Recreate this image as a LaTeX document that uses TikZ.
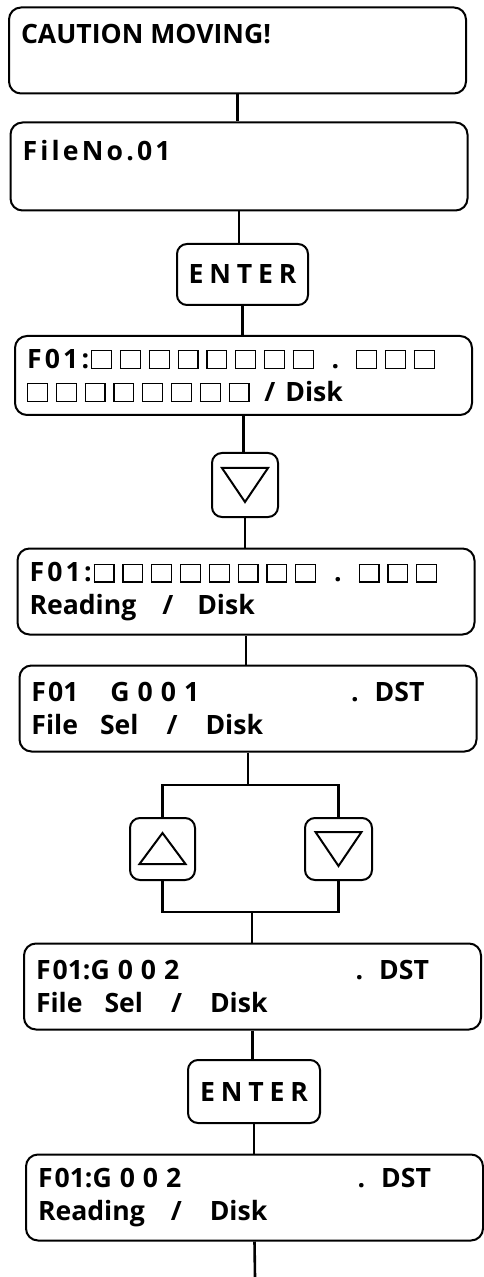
\documentclass[tikz,border=0pt]{standalone}
\usepackage{fontspec}
\setmainfont{Open Sans}
\newfontfamily\lcdwide{Open Sans}[LetterSpace=12]
\newfontfamily\lcdwider{Open Sans}[LetterSpace=22]
\newfontfamily\lcdwidest{Open Sans}[LetterSpace=30]
\newcommand\lcdfont{\fontsize{13.3pt}{16.5pt}\selectfont\bfseries}
\newcommand\lcdcell{{\setlength\fboxsep{0pt}\setlength\fboxrule{0.6pt}\fbox{\rule{0pt}{8.3pt}\rule{9.3pt}{0pt}}}\hspace{3.9pt}}
\newcommand\cells[1]{\foreach \i in {1,...,#1}{\lcdcell}}
\tikzset{
  lcd/.style={draw, line width=1pt, rounded corners=6pt, text width=216.5pt, inner xsep=6pt, inner ysep=0pt, minimum height=43pt, align=flush left, font=\lcdfont},
  key/.style={draw, line width=1pt, rounded corners=5pt, inner sep=0pt, font=\lcdfont},
  wire/.style={line width=1.3pt},
  tri/.style={line width=1pt, line join=miter},
}
\begin{document}
\begin{tikzpicture}[x=0.5pt, y=-0.5pt]
\useasboundingbox (0,0) rectangle (483,1277);
% display screens and keys, top to bottom
\node[lcd] (b1) at (237.5,50.5) {CAUTION MOVING!\\\mbox{}};
\node[lcd, minimum height=44pt] (b2) at (239,166.5) {{\lcdwide FileNo.01}\\\mbox{}};
\node[key, minimum width=65.5pt, minimum height=30.5pt] (ent1) at (242.5,274.5) {\lcdwider ENTER};
\node[lcd, minimum height=39.5pt] (b3) at (243.5,375.5) {{\lcdwide F01:}\hspace{1pt}\cells{8}\hspace{5pt}.\hspace{8.5pt}\cells{3}\\\cells{8}\hspace{3.5pt}/\hspace{5pt}Disk};
\node[key, minimum width=33pt, minimum height=32pt] (dn1) at (245,485) {};
\node[lcd] (b4) at (246,591.5) {{\lcdwide F01:}\hspace{1pt}\cells{8}\hspace{5pt}.\hspace{8.5pt}\cells{3}\\Reading\hspace{13pt}/\hspace{12pt}Disk};
\node[lcd] (b5) at (248,708.5) {F\kern1pt01\hspace{16pt}{\lcdwidest G001}\hfill.\hspace{8pt}DST\hspace{20pt}\mbox{}\\File\hspace{11pt}Sel\hspace{14pt}/\hspace{14pt}Disk};
\node[key, minimum width=32.5pt, minimum height=31pt] (up) at (162.5,849) {};
\node[key, minimum width=33.5pt, minimum height=31pt] (dn2) at (338.5,849) {};
\node[lcd] (b6) at (252.5,986.5) {F\kern1pt01:{\lcdwidest G002}\hfill.\hspace{8pt}DST\hspace{20pt}\mbox{}\\File\hspace{11pt}Sel\hspace{14pt}/\hspace{14pt}Disk};
\node[key, minimum width=66pt, minimum height=31.5pt] (ent2) at (254,1091.5) {\lcdwider ENTER};
\node[lcd] (b7) at (254.5,1197.5) {F\kern1pt01:{\lcdwidest G002}\hfill.\hspace{8pt}DST\hspace{20pt}\mbox{}\\Reading\hspace{13pt}/\hspace{14pt}Disk};
\coordinate (split) at (248,785);
\coordinate (join) at (252,912);
\coordinate (end) at (255,1277);
% arrow keys
\foreach \k in {dn1,dn2}
  \draw[tri] ([shift={(-11.5pt,8.5pt)}]\k.center) -- ([shift={(11.5pt,8.5pt)}]\k.center) -- ([yshift=-8.5pt]\k.center) -- cycle;
\draw[tri] ([shift={(-11.5pt,-7.5pt)}]up.center) -- ([shift={(11.5pt,-7.5pt)}]up.center) -- ([yshift=8pt]up.center) -- cycle;
% connectors
\foreach \a/\b in {b1/b2,b2/ent1,ent1/b3,b3/dn1,dn1/b4,b4/b5,b6/ent2,ent2/b7}
  \draw[wire] (\a.south) -- (\a.south |- \b.north);
\draw[wire] (b5.south) -- (split);
\draw[wire] (up.north) |- (split) -| (dn2.north);
\draw[wire] (up.south) |- (join) -| (dn2.south);
\draw[wire] (join) -- (join |- b6.north);
\draw[wire] (b7.south) -- (end);
\end{tikzpicture}
\end{document}
